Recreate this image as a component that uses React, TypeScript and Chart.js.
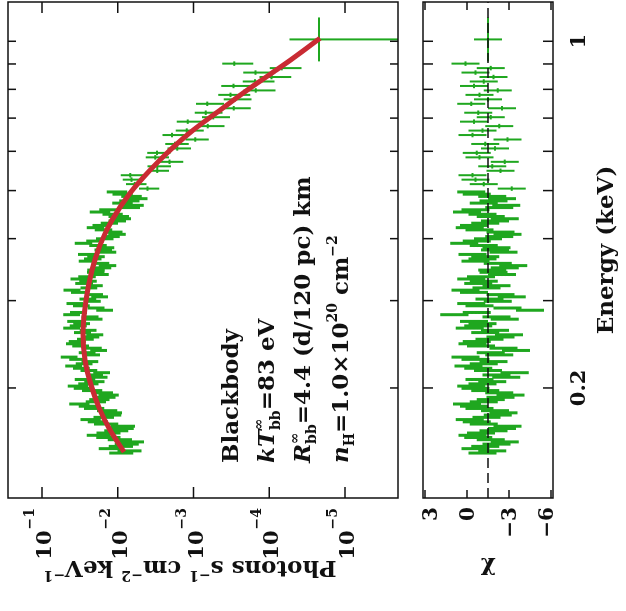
import React, { useEffect, useRef } from "react";
import { Chart, registerables } from "chart.js";
Chart.register(...registerables);

// ---------- data ----------
// energy bin edges in keV (148 bins)
const binEdges = [
  0.1471, 0.1486, 0.1501, 0.1517, 0.1533, 0.1549, 0.1565, 0.1581, 0.1597, 0.1614,
  0.1631, 0.1648, 0.1666, 0.1683, 0.17, 0.1718, 0.1736, 0.1754, 0.1773, 0.1791,
  0.1809, 0.1828, 0.1847, 0.1866, 0.1885, 0.1905, 0.1925, 0.1945, 0.1966, 0.1986,
  0.2007, 0.2028, 0.2049, 0.207, 0.2091, 0.2113, 0.2136, 0.2158, 0.218, 0.2203,
  0.2226, 0.2249, 0.2272, 0.2296, 0.232, 0.2344, 0.2368, 0.2393, 0.2418, 0.2443,
  0.2468, 0.2494, 0.2521, 0.2547, 0.2573, 0.26, 0.2627, 0.2654, 0.2682, 0.271,
  0.2738, 0.2767, 0.2796, 0.2825, 0.2854, 0.2884, 0.2914, 0.2944, 0.2975, 0.3006,
  0.3037, 0.3069, 0.3101, 0.3133, 0.3166, 0.3199, 0.3232, 0.3266, 0.33, 0.3334,
  0.3369, 0.3404, 0.3439, 0.3475, 0.3511, 0.3548, 0.3585, 0.3622, 0.366, 0.3698,
  0.3737, 0.3776, 0.3815, 0.3855, 0.3894, 0.3935, 0.3977, 0.4018, 0.406, 0.4102,
  0.4145, 0.4188, 0.4231, 0.4275, 0.432, 0.4365, 0.441, 0.4456, 0.4503, 0.455,
  0.4597, 0.4645, 0.4693, 0.4742, 0.4791, 0.4841, 0.4892, 0.4943, 0.4994, 0.5099,
  0.5206, 0.5315, 0.5425, 0.5539, 0.5655, 0.5774, 0.5895, 0.6018, 0.6144, 0.6273,
  0.6404, 0.6538, 0.6675, 0.6815, 0.6957, 0.7103, 0.7252, 0.7404, 0.7558, 0.7717,
  0.7878, 0.8043, 0.8211, 0.8384, 0.8559, 0.8738, 0.8921, 0.9109, 1.117,
];

// photons s^-1 cm^-2 keV^-1
const flux = [
  9.62e-3, 7.48e-3, 1.317e-2, 9.7e-3, 8.12e-3, 6.92e-3, 1.001e-2, 1.419e-2, 1.899e-2, 1.416e-2,
  1.116e-2, 9.43e-3, 9.13e-3, 1.52e-2, 1.916e-2, 2.387e-2, 1.607e-2, 1.288e-2, 1.254e-2, 1.451e-2,
  2.153e-2, 2.522e-2, 3.371e-2, 2.037e-2, 1.836e-2, 1.532e-2, 1.382e-2, 1.647e-2, 2.284e-2, 2.941e-2,
  3.522e-2, 2.561e-2, 2.136e-2, 2.841e-2, 1.816e-2, 2.093e-2, 1.686e-2, 2.486e-2, 3.113e-2, 3.95e-2,
  2.868e-2, 2.412e-2, 3.505e-2, 4.529e-2, 2.287e-2, 2.614e-2, 1.849e-2, 2.174e-2, 3.202e-2, 3.863e-2,
  3.538e-2, 2.762e-2, 2.333e-2, 2.079e-2, 3.017e-2, 2.547e-2, 4.191e-2, 3.43e-2, 3.104e-2, 3.724e-2,
  2.122e-2, 2.401e-2, 4.2e-2, 3.408e-2, 1.538e-2, 1.995e-2, 3.127e-2, 3.8e-2, 2.233e-2, 2.561e-2,
  1.794e-2, 2.086e-2, 3.317e-2, 4.147e-2, 2.484e-2, 2.106e-2, 2.879e-2, 2.556e-2, 3.332e-2, 2.635e-2,
  1.772e-2, 2.022e-2, 2.007e-2, 1.648e-2, 1.41e-2, 1.752e-2, 2.588e-2, 2.213e-2, 2.002e-2, 2.659e-2,
  1.414e-2, 1.608e-2, 1.505e-2, 1.888e-2, 2.942e-2, 2.074e-2, 1.538e-2, 1.273e-2, 1.057e-2, 1.168e-2,
  1.601e-2, 2.041e-2, 1.71e-2, 1.336e-2, 1.048e-2, 9.02e-3, 1.019e-2, 1.228e-2, 1.796e-2, 1.354e-2,
  7.27e-3, 6.49e-3, 9.06e-3, 7.36e-3, 5.79e-3, 6.91e-3, 9.04e-3, 1.073e-2, 4.05e-3, 5.97e-3,
  6.6e-3, 6.83e-3, 3.0e-3, 3.02e-3, 2.07e-3, 3.19e-3, 3.04e-3, 1.64e-3, 1.76e-3, 9.51e-4,
  1.92e-3, 1.224e-3, 6.5e-4, 1.19e-3, 5.5e-4, 6.88e-4, 2.94e-4, 6.6e-4, 2.86e-4, 3.26e-4,
  1.505e-4, 2.96e-4, 1.549e-4, 9.32e-5, 1.52e-4, 6.82e-5, 2.9e-4, 2.2e-5,
];

const fluxErr = [
  3.37e-3, 2.62e-3, 4.61e-3, 3.4e-3, 2.84e-3, 2.42e-3, 3.5e-3, 4.97e-3, 6.65e-3, 4.96e-3,
  3.91e-3, 3.3e-3, 3.2e-3, 5.32e-3, 5.75e-3, 7.16e-3, 4.82e-3, 3.86e-3, 3.76e-3, 4.35e-3,
  6.46e-3, 7.57e-3, 1.011e-2, 6.11e-3, 5.51e-3, 4.6e-3, 4.15e-3, 4.94e-3, 6.85e-3, 8.82e-3,
  1.057e-2, 7.68e-3, 6.41e-3, 8.52e-3, 4.54e-3, 5.23e-3, 4.21e-3, 6.22e-3, 7.78e-3, 9.88e-3,
  7.17e-3, 6.03e-3, 8.76e-3, 1.132e-2, 5.72e-3, 6.54e-3, 4.62e-3, 5.44e-3, 8.0e-3, 9.66e-3,
  8.84e-3, 6.9e-3, 5.83e-3, 5.2e-3, 7.54e-3, 6.37e-3, 1.048e-2, 8.58e-3, 7.76e-3, 9.31e-3,
  5.31e-3, 6.0e-3, 1.05e-2, 8.52e-3, 3.85e-3, 4.99e-3, 7.82e-3, 9.5e-3, 5.58e-3, 6.4e-3,
  4.49e-3, 5.21e-3, 8.29e-3, 1.037e-2, 6.21e-3, 5.27e-3, 7.49e-3, 6.65e-3, 8.66e-3, 6.85e-3,
  4.61e-3, 5.26e-3, 5.22e-3, 4.28e-3, 3.67e-3, 4.56e-3, 6.73e-3, 5.75e-3, 5.21e-3, 6.91e-3,
  3.68e-3, 4.18e-3, 3.91e-3, 4.91e-3, 7.65e-3, 5.39e-3, 4.0e-3, 3.31e-3, 2.75e-3, 3.04e-3,
  4.16e-3, 5.31e-3, 4.45e-3, 3.47e-3, 2.72e-3, 2.35e-3, 3.06e-3, 3.68e-3, 5.39e-3, 4.06e-3,
  2.18e-3, 1.95e-3, 2.72e-3, 2.21e-3, 1.74e-3, 2.07e-3, 2.71e-3, 3.22e-3, 1.21e-3, 1.79e-3,
  1.98e-3, 2.33e-3, 8.99e-4, 1.03e-3, 7.0e-4, 1.08e-3, 1.03e-3, 5.6e-4, 6.0e-4, 3.23e-4,
  6.53e-4, 4.9e-4, 2.6e-4, 4.76e-4, 2.2e-4, 2.75e-4, 1.18e-4, 2.64e-4, 1.14e-4, 1.47e-4,
  6.77e-5, 1.33e-4, 6.97e-5, 4.19e-5, 6.84e-5, 3.07e-5, 1.27e-4, 3.2e-5,
];

// residuals as read on the lower panel's axis
const residual = [
  -1.1, -1.8, -0.6, -1.3, -2.1, -2.7, -1.7, -0.8, -0.4, -1.0,
  -1.9, -2.5, -2.9, -1.2, -0.7, -0.2, -1.4, -2.2, -2.6, -2.0,
  -0.9, -0.5, 0.0, -1.2, -1.7, -2.4, -3.1, -2.3, -1.3, -0.6,
  -0.3, -1.1, -1.8, -0.9, -2.8, -2.1, -3.4, -1.5, -0.8, -0.1,
  -1.2, -1.9, -0.6, 0.1, -2.3, -1.7, -3.5, -2.6, -1.0, -0.4,
  -0.7, -1.6, -2.4, -3.0, -1.3, -2.0, -0.2, -0.8, -1.1, -0.5,
  -2.7, -2.1, 0.9, -0.7, -4.5, -2.9, -0.9, -0.3, -2.2, -1.6,
  -3.2, -2.4, -0.5, 0.1, -1.4, -2.1, -0.8, -1.2, -0.3, -1.0,
  -2.5, -1.9, -1.8, -2.7, -3.3, -2.2, -0.6, -1.1, -1.3, -0.4,
  -2.6, -2.0, -2.1, -1.2, 0.2, -0.7, -1.5, -2.3, -2.9, -2.4,
  -0.9, -0.2, -0.5, -1.3, -2.0, -2.7, -1.7, -1.1, 0.0, -0.6,
  -2.3, -2.8, -1.2, -1.9, -2.5, -1.8, -0.7, -0.3, -3.2, -1.2,
  -0.6, -0.4, -2.4, -1.8, -2.7, -0.9, -0.7, -2.0, -1.3, -2.9,
  -0.4, -1.1, -2.3, -0.5, -1.7, -0.8, -2.5, -0.3, -1.5, -0.9,
  -2.2, -0.5, -1.2, -1.9, -0.6, -1.7, 0.1, -1.5,
];
const residualErr = 1; // one sigma in residual units
const residualLine = -1.5;

// blackbody model curve
const modelEnergy = [
  0.1486, 0.1646, 0.1806, 0.2028, 0.2277, 0.2581, 0.3007, 0.3457, 0.3882, 0.4359,
  0.4941, 0.5497, 0.6031, 0.6616, 0.7261, 0.7966, 0.8661, 0.9243, 1.014,
];
const modelFlux = [
  8.27e-3, 1.266e-2, 1.715e-2, 2.254e-2, 2.705e-2, 2.877e-2, 2.624e-2, 2.188e-2, 1.715e-2, 1.191e-2,
  6.89e-3, 3.75e-3, 2.04e-3, 1.016e-3, 4.47e-4, 1.968e-4, 8.92e-5, 4.86e-5, 2.14e-5,
];

// axes
const energyRange = [0.12, 1.2];
const fluxRange = [2.0e-6, 0.281];
const residualRange = [-6.14, 3.14];
const energyTicks = [0.2, 0.3, 0.4, 0.5, 0.6, 0.7, 0.8, 0.9, 1];
const energyLabels = ["0.2", "", "", "", "", "", "", "", "1"];
const fluxTicks = [1e-1, 1e-2, 1e-3, 1e-4, 1e-5];
const fluxExponents = ["\u22121", "\u22122", "\u22123", "\u22124", "\u22125"];
const residualTicks = [3, 0, -3, -6];
const residualLabels = ["3", "0", "\u22123", "\u22126"];
const denseLimit = 0.5; // keV: below this the narrow bins merge into a band

// ---------- styling ----------
const GREEN = "#1fa71f";
const RED = "#c92b33";
const INK = "#111";
const FACE = "'DejaVu Serif', 'Liberation Serif', serif";
const W = 611;
const H = 626;
const MAIN = { left: 113, right: 609, top: 8, bottom: 398 };
const RES = { left: 113, right: 609, top: 423, bottom: 553 };

type Part = { t: string; size?: number; italic?: boolean; dy?: number; stack?: boolean };

function fnt(size: number, italic = false) {
  return `${italic ? "italic " : ""}bold ${size}px ${FACE}`;
}

function richWidth(ctx: CanvasRenderingContext2D, parts: Part[]) {
  let cx = 0;
  let last = 0;
  for (const p of parts) {
    ctx.font = fnt(p.size ?? 23, p.italic);
    const w = ctx.measureText(p.t).width;
    const px = p.stack ? last : cx;
    if (!p.stack) last = cx;
    cx = Math.max(cx, px + w);
  }
  return cx;
}

function drawRich(ctx: CanvasRenderingContext2D, x: number, y: number, parts: Part[]) {
  let cx = x;
  let last = x;
  ctx.textAlign = "left";
  ctx.textBaseline = "alphabetic";
  for (const p of parts) {
    ctx.font = fnt(p.size ?? 23, p.italic);
    const w = ctx.measureText(p.t).width;
    const px = p.stack ? last : cx;
    if (!p.stack) last = cx;
    ctx.fillText(p.t, px, y + (p.dy ?? 0));
    cx = Math.max(cx, px + w);
  }
}

function drawRotated(ctx: CanvasRenderingContext2D, xBase: number, yCenter: number, parts: Part[]) {
  const w = richWidth(ctx, parts);
  ctx.save();
  ctx.translate(xBase, yCenter);
  ctx.rotate(-Math.PI / 2);
  drawRich(ctx, -w / 2, 0, parts);
  ctx.restore();
}

function frameAndTicks(
  ctx: CanvasRenderingContext2D,
  a: { left: number; right: number; top: number; bottom: number },
  xs: any,
  ys: any,
  xTicks: number[],
  xLen: number,
  yTicks: number[],
  yLen: number
) {
  ctx.save();
  ctx.strokeStyle = INK;
  ctx.lineWidth = 1.5;
  ctx.strokeRect(a.left, a.top, a.right - a.left, a.bottom - a.top);
  ctx.beginPath();
  for (const v of xTicks) {
    const x = xs.getPixelForValue(v);
    if (x < a.left || x > a.right) continue;
    ctx.moveTo(x, a.bottom);
    ctx.lineTo(x, a.bottom - xLen);
    ctx.moveTo(x, a.top);
    ctx.lineTo(x, a.top + xLen);
  }
  for (const v of yTicks) {
    const y = ys.getPixelForValue(v);
    if (y < a.top || y > a.bottom) continue;
    ctx.moveTo(a.left, y);
    ctx.lineTo(a.left + yLen, y);
    ctx.moveTo(a.right, y);
    ctx.lineTo(a.right - yLen, y);
  }
  ctx.stroke();
  ctx.restore();
}

const mainDecor = {
  id: "mainDecor",
  afterDraw(chart: any) {
    const ctx: CanvasRenderingContext2D = chart.ctx;
    const xs = chart.scales.x;
    const ys = chart.scales.y;
    const a = chart.chartArea;
    frameAndTicks(ctx, a, xs, ys, energyTicks, 8, fluxTicks, 11);
    ctx.save();
    ctx.fillStyle = INK;
    // flux tick labels 10^-n
    fluxTicks.forEach((v, i) => {
      const y = ys.getPixelForValue(v);
      ctx.textAlign = "left";
      ctx.textBaseline = "alphabetic";
      ctx.font = fnt(14);
      const ew = ctx.measureText(fluxExponents[i]).width;
      const ex = a.left - 10 - ew;
      ctx.fillText(fluxExponents[i], ex, y - 8);
      ctx.font = fnt(21);
      const bw = ctx.measureText("10").width;
      ctx.fillText("10", ex - bw - 1, y + 9);
    });
    // y title
    drawRotated(ctx, 50, 190, [
      { t: "Photons s" },
      { t: "\u22121", size: 14, dy: -10 },
      { t: " cm" },
      { t: "\u22122", size: 14, dy: -10 },
      { t: " keV" },
      { t: "\u22121", size: 14, dy: -10 },
    ]);
    // annotation
    const x0 = 148;
    drawRich(ctx, x0, 238, [{ t: "Blackbody" }]);
    drawRich(ctx, x0, 274, [
      { t: "kT", italic: true },
      { t: "\u221e", size: 14, dy: -11 },
      { t: "bb", size: 14, dy: 6, stack: true },
      { t: "=83 eV" },
    ]);
    drawRich(ctx, x0, 310, [
      { t: "R", italic: true },
      { t: "\u221e", size: 14, dy: -11 },
      { t: "bb", size: 14, dy: 6, stack: true },
      { t: "=4.4 (d/120 pc) km" },
    ]);
    drawRich(ctx, x0, 348, [
      { t: "n", italic: true },
      { t: "H", size: 14, dy: 6 },
      { t: "=1.0\u00d710" },
      { t: "20", size: 14, dy: -11 },
      { t: " cm" },
      { t: "\u22122", size: 14, dy: -11 },
    ]);
    ctx.restore();
  },
};

const resDecor = {
  id: "resDecor",
  afterDraw(chart: any) {
    const ctx: CanvasRenderingContext2D = chart.ctx;
    const xs = chart.scales.x;
    const ys = chart.scales.y;
    const a = chart.chartArea;
    frameAndTicks(ctx, a, xs, ys, energyTicks, 10, residualTicks, 8);
    ctx.save();
    ctx.fillStyle = INK;
    ctx.font = fnt(20);
    ctx.textAlign = "right";
    ctx.textBaseline = "alphabetic";
    residualTicks.forEach((v, i) => {
      const y = ys.getPixelForValue(v);
      const c = Math.min(Math.max(y, a.top + 7), a.bottom - 7);
      ctx.fillText(residualLabels[i], a.left - 9, c + 7);
    });
    ctx.font = fnt(21);
    ctx.textAlign = "center";
    energyTicks.forEach((v, i) => {
      if (!energyLabels[i]) return;
      ctx.fillText(energyLabels[i], xs.getPixelForValue(v), 585);
    });
    ctx.font = fnt(23);
    ctx.fillText("Energy (keV)", (a.left + a.right) / 2, 613);
    drawRotated(ctx, 48, (a.top + a.bottom) / 2, [{ t: "\u03c7" }]);
    ctx.restore();
  },
};

// error-bar crosses for the bins whose centre lies in [eMin, eMax)
function binBars(values: number[], errs: (i: number) => number, floor: number | null, eMin: number, eMax: number) {
  const pts: any[] = [];
  for (let i = 0; i < values.length; i++) {
    const lo = binEdges[i];
    const hi = binEdges[i + 1];
    const c = Math.sqrt(lo * hi);
    if (c < eMin || c >= eMax) continue;
    const v = values[i];
    const e = errs(i);
    let low = v - e;
    if (floor !== null && low <= floor) low = floor;
    pts.push({ x: lo, y: v }, { x: hi, y: v }, { x: hi, y: null });
    pts.push({ x: c, y: v + e }, { x: c, y: low }, { x: c, y: null });
  }
  return pts;
}

function barSet(data: any[], width: number) {
  return { data, borderColor: GREEN, borderWidth: width, pointRadius: 0, spanGaps: false, order: 1 };
}

function baseOptions(area: { left: number; right: number; top: number; bottom: number }, yScale: any) {
  return {
    responsive: false,
    animation: false,
    devicePixelRatio: 1,
    events: [],
    layout: {
      padding: { left: area.left, top: area.top, right: W - area.right, bottom: H - area.bottom },
    },
    plugins: { legend: { display: false }, tooltip: { enabled: false }, title: { display: false } },
    scales: {
      x: { type: "logarithmic", min: energyRange[0], max: energyRange[1], display: false },
      y: yScale,
    },
  };
}

function makeMain(): any {
  const model = modelEnergy.map((e, i) => ({ x: e, y: modelFlux[i] }));
  const floor = fluxRange[0] / 10;
  return {
    type: "line",
    data: {
      datasets: [
        {
          data: model,
          borderColor: RED,
          borderWidth: 5,
          pointRadius: 0,
          cubicInterpolationMode: "monotone",
          order: 0,
        },
        barSet(binBars(flux, (i) => fluxErr[i], floor, 0, denseLimit), 3),
        barSet(binBars(flux, (i) => fluxErr[i], floor, denseLimit, 10), 2),
      ],
    },
    options: baseOptions(MAIN, { type: "logarithmic", min: fluxRange[0], max: fluxRange[1], display: false }),
    plugins: [mainDecor],
  };
}

function makeRes(): any {
  return {
    type: "line",
    data: {
      datasets: [
        {
          data: [
            { x: energyRange[0], y: residualLine },
            { x: energyRange[1], y: residualLine },
          ],
          borderColor: INK,
          borderWidth: 1.5,
          borderDash: [10, 5],
          pointRadius: 0,
          order: 0,
        },
        barSet(binBars(residual, () => residualErr, null, 0, denseLimit), 3),
        barSet(binBars(residual, () => residualErr, null, denseLimit, 10), 2),
      ],
    },
    options: baseOptions(RES, { type: "linear", min: residualRange[0], max: residualRange[1], display: false }),
    plugins: [resDecor],
  };
}

export default function App() {
  const mainRef = useRef<HTMLCanvasElement>(null);
  const resRef = useRef<HTMLCanvasElement>(null);
  useEffect(() => {
    const c1 = new Chart(mainRef.current as HTMLCanvasElement, makeMain());
    const c2 = new Chart(resRef.current as HTMLCanvasElement, makeRes());
    return () => {
      c1.destroy();
      c2.destroy();
    };
  }, []);
  const cstyle: React.CSSProperties = { position: "absolute", left: 0, top: 0, width: W, height: H };
  return (
    <div style={{ position: "absolute", left: 0, top: 0, width: 626, height: 611, overflow: "hidden", background: "#fff" }}>
      <div
        style={{
          position: "absolute",
          left: 0,
          top: 0,
          width: W,
          height: H,
          transformOrigin: "0 0",
          transform: `translate(0px, ${W}px) rotate(-90deg)`,
        }}
      >
        <canvas ref={mainRef} width={W} height={H} style={cstyle} />
        <canvas ref={resRef} width={W} height={H} style={cstyle} />
      </div>
    </div>
  );
}
